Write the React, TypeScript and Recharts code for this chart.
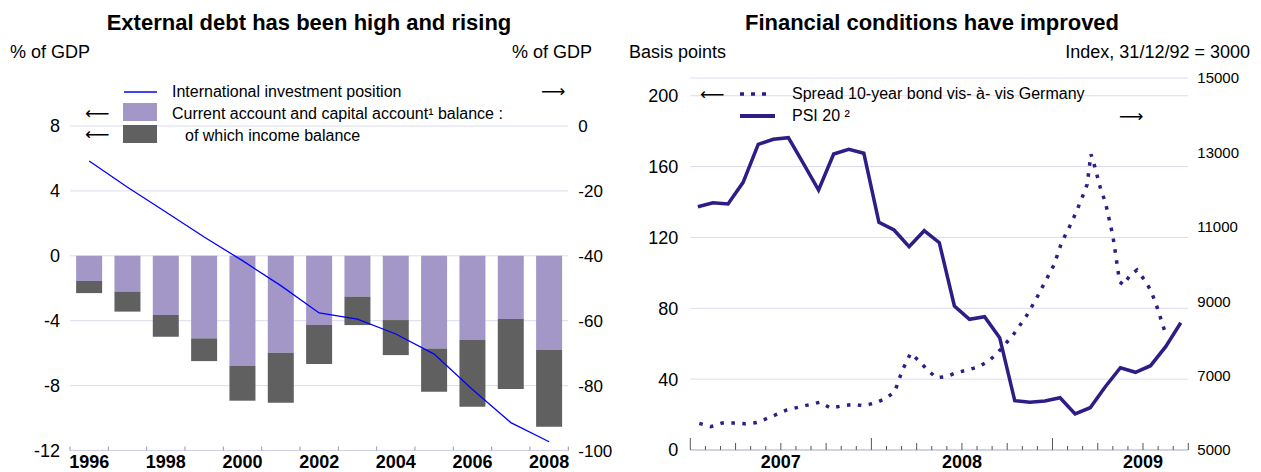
import React from "react"
import { ComposedChart, Bar, Line, XAxis, YAxis, CartesianGrid } from "recharts"

// ---- left panel: external position, % of GDP ----
const years = ["1996", "1997", "1998", "1999", "2000", "2001", "2002", "2003", "2004", "2005", "2006", "2007", "2008"]
const currentAccount = [-2.3, -3.44, -4.99, -6.49, -8.93, -9.06, -6.67, -4.27, -6.12, -8.38, -9.3, -8.21, -10.54]
const incomeBalance = [-0.75, -1.23, -1.34, -1.4, -2.14, -3.09, -2.4, -1.75, -2.16, -2.67, -4.11, -4.31, -4.73]
const investmentPosition = [-10.8, -18.9, -26.5, -34.2, -41.5, -49.2, -57.6, -59.5, -64.1, -70.3, -81.2, -91.4, -97.3]
const leftTicks = [-12, -8, -4, 0, 4, 8]
const rightTicks = [-100, -80, -60, -40, -20, 0]

// ---- right panel: monthly, Jan 2007 = month 0 ----
const psi20 = [
  11540, 11648, 11613, 12196, 13218, 13352, 13395, 12700, 11989, 12957, 13083, 12976,
  11121, 10914, 10465, 10895, 10573, 8871, 8513, 8583, 8019, 6325, 6282, 6317,
  6406, 5968, 6137, 6702, 7212, 7089, 7266, 7777, 8422,
]
const spreadMonths = [
  0.6, 1.35, 2.1, 3.0, 3.6, 4.4, 5.0, 6.4, 7.2, 8.6, 9.3, 10.0, 10.8, 11.5, 12.3, 13.0, 13.55, 14.05, 14.6,
  15.2, 15.7, 16.3, 17.0, 17.6, 18.4, 19.1, 19.8, 20.4, 21.4, 22.3, 23.0, 23.7, 24.1, 24.6, 25.3, 25.9,
  26.3, 26.55, 26.8, 27.2, 27.5, 28.0, 28.45, 28.7, 29.15, 29.6, 30.1, 30.5, 30.85, 31.5,
]
const spreadBp = [
  15, 13.2, 15.2, 15.3, 14.8, 15.5, 17.5, 22.6, 24.2, 27, 23.6, 24.8, 25.8, 25, 26.7, 29.3, 33, 45, 54.6,
  50, 45.3, 40.8, 41.5, 43.6, 45.2, 47, 50.4, 55.2, 65, 76, 86.6, 98, 104.5, 117, 129, 141,
  150, 167, 160, 147, 140, 121, 95, 93.2, 98.8, 101.6, 96, 90.3, 82.8, 65.5,
]
const yearLabels = ["2007", "2008", "2009"]
const bpTicks = [0, 40, 80, 120, 160, 200]
const indexTicks = [5000, 7000, 9000, 11000, 13000, 15000]

const leftData = years.map((year, i) => ({
  year,
  other: +(currentAccount[i] - incomeBalance[i]).toFixed(2),
  income: incomeBalance[i],
  iip: investmentPosition[i],
}))

const rightData = [
  ...psi20.map((v, i) => ({ m: i + 0.5, psi: v })),
  ...spreadMonths.map((m, i) => ({ m, spread: spreadBp[i] })),
].sort((a, b) => a.m - b.m)

const monthTicks = Array.from({ length: psi20.length + 1 }, (_, i) => i)

const FONT = '"Liberation Sans", Arial, Helvetica, sans-serif'
const PURPLE = "#a397c8"
const DARK = "#606060"
const INDIGO = "#2d1e87"
const GRID = "#dcdcf0"

const LEFT_BAND = 498.3 / years.length

function YearTick(props: any) {
  const { x, y, index } = props
  const axisY = y - 8
  const left = x - LEFT_BAND / 2
  return (
    <g>
      <line x1={left} x2={left} y1={axisY} y2={axisY - 4} stroke="#999" />
      {index === years.length - 1 && (
        <line x1={x + LEFT_BAND / 2} x2={x + LEFT_BAND / 2} y1={axisY} y2={axisY - 4} stroke="#999" />
      )}
      {index % 2 === 0 && (
        <text x={x} y={axisY + 17.5} textAnchor="middle" fontWeight="bold" fontSize={18} fill="#000">
          {years[index]}
        </text>
      )}
    </g>
  )
}

function MonthTick(props: any) {
  const { x, y, payload } = props
  const m = payload.value
  const len = m % 12 === 0 ? 12 : m % 3 === 0 ? 7 : 4
  const label = m % 12 === 6 ? yearLabels[Math.floor(m / 12)] : null
  return (
    <g>
      <line x1={x} x2={x} y1={y} y2={y - len} stroke="#555" />
      {label && (
        <text x={x} y={y + 18} textAnchor="middle" fontWeight="bold" fontSize={18} fill="#000">
          {label}
        </text>
      )}
    </g>
  )
}

function Txt({ x, y, size = 16, bold = false, anchor = "start", font, children }: any) {
  const tx = anchor === "middle" ? "translate(-50%, -50%)" : anchor === "end" ? "translate(-100%, -50%)" : "translate(0, -50%)"
  return (
    <div
      style={{
        position: "absolute",
        left: x,
        top: y,
        transform: tx,
        fontSize: size,
        fontWeight: bold ? "bold" : "normal",
        fontFamily: font,
        lineHeight: 1,
        whiteSpace: "nowrap",
      }}
    >
      {children}
    </div>
  )
}

function Arrow({ x, y, dir }: any) {
  return (
    <Txt x={x} y={y} size={17} font='"DejaVu Sans", sans-serif'>
      {dir === "left" ? "⟵" : "⟶"}
    </Txt>
  )
}

function Swatch({ x, y, w, h, color }: any) {
  return <div style={{ position: "absolute", left: x, top: y, width: w, height: h, background: color }} />
}

function LineSwatch({ x, y, w, width, color, dash }: any) {
  return (
    <svg style={{ position: "absolute", left: x, top: y - 5 }} width={w} height={10}>
      <line x1={0} x2={w} y1={5} y2={5} stroke={color} strokeWidth={width} strokeDasharray={dash} />
    </svg>
  )
}

export default function App() {
  return (
    <div
      style={{
        position: "absolute",
        left: 0,
        top: 0,
        width: 1261,
        height: 472,
        background: "#fff",
        fontFamily: FONT,
        color: "#000",
        overflow: "hidden",
      }}
    >
      <div style={{ position: "absolute", left: 0, top: 0 }}>
        <ComposedChart width={620} height={472} data={leftData} margin={{ top: 126, right: 0, bottom: 1.5, left: 0 }} barCategoryGap="16%">
          <CartesianGrid yAxisId="left" vertical={false} stroke={GRID} />
          <XAxis
            dataKey="year"
            interval={0}
            height={20}
            tickSize={0}
            tickMargin={8}
            tickLine={false}
            axisLine={{ stroke: "#d0d0e8" }}
            tick={<YearTick />}
          />
          <YAxis
            yAxisId="left"
            width={70}
            domain={[-12, 8]}
            ticks={leftTicks}
            axisLine={false}
            tickLine={false}
            tickSize={0}
            tickMargin={10}
            tick={{ fill: "#000", fontSize: 18 }}
          />
          <YAxis
            yAxisId="right"
            orientation="right"
            width={51.7}
            domain={[-100, 0]}
            ticks={rightTicks}
            axisLine={false}
            tickLine={false}
            tickSize={0}
            tickMargin={10}
            tick={{ fill: "#000", fontSize: 17 }}
          />
          <Bar yAxisId="left" dataKey="other" stackId="ca" fill={PURPLE} isAnimationActive={false} />
          <Bar yAxisId="left" dataKey="income" stackId="ca" fill={DARK} isAnimationActive={false} />
          <Line yAxisId="right" dataKey="iip" stroke="#0000ff" strokeWidth={1.3} dot={false} isAnimationActive={false} />
        </ComposedChart>
      </div>

      <div style={{ position: "absolute", left: 620, top: 0 }}>
        <ComposedChart width={641} height={472} data={rightData} margin={{ top: 78, right: 0, bottom: 2, left: 0 }}>
          <CartesianGrid yAxisId="bp" vertical={false} stroke={GRID} />
          <XAxis
            dataKey="m"
            type="number"
            domain={[0, 33]}
            ticks={monthTicks}
            interval={0}
            height={20}
            tickSize={0}
            tickMargin={0}
            tickLine={false}
            axisLine={{ stroke: "#b8b8cc" }}
            tick={<MonthTick />}
          />
          <YAxis
            yAxisId="bp"
            width={70.3}
            domain={[0, 210]}
            ticks={bpTicks}
            axisLine={false}
            tickLine={false}
            tickSize={0}
            tickMargin={12}
            tick={{ fill: "#000", fontSize: 18 }}
          />
          <YAxis
            yAxisId="psi"
            orientation="right"
            width={72.7}
            domain={[5000, 15000]}
            ticks={indexTicks}
            axisLine={false}
            tickLine={false}
            tickSize={0}
            tickMargin={9}
            tick={{ fill: "#000", fontSize: 15 }}
          />
          <Line
            yAxisId="bp"
            dataKey="spread"
            stroke={INDIGO}
            strokeWidth={3.5}
            strokeDasharray="3.5 7.5"
            dot={false}
            connectNulls
            isAnimationActive={false}
          />
          <Line
            yAxisId="psi"
            dataKey="psi"
            stroke={INDIGO}
            strokeWidth={3.5}
            dot={false}
            connectNulls
            isAnimationActive={false}
          />
        </ComposedChart>
      </div>

      {/* left panel texts */}
      <Txt x={309} y={23} size={22} bold anchor="middle">External debt has been high and rising</Txt>
      <Txt x={10} y={52} size={18}>% of GDP</Txt>
      <Txt x={592} y={52} size={18} anchor="end">% of GDP</Txt>
      <LineSwatch x={124} y={92} w={33} width={1.5} color="#0000ff" />
      <Txt x={172} y={92} size={16}>International investment position</Txt>
      <Arrow x={541} y={91} dir="right" />
      <Swatch x={123} y={103} w={34} h={18} color={PURPLE} />
      <Txt x={172} y={114} size={16}>Current account and capital account¹ balance :</Txt>
      <Arrow x={85} y={113} dir="left" />
      <Swatch x={123} y={125} w={34} h={18} color={DARK} />
      <Txt x={185} y={136} size={16}>of which income balance</Txt>
      <Arrow x={85} y={134} dir="left" />

      {/* right panel texts */}
      <Txt x={932} y={23} size={22} bold anchor="middle">Financial conditions have improved</Txt>
      <Txt x={629} y={52} size={18}>Basis points</Txt>
      <Txt x={1250} y={52} size={18} anchor="end">Index, 31/12/92 = 3000</Txt>
      <LineSwatch x={740} y={94.3} w={29} width={3.5} color={INDIGO} dash="4 7" />
      <Txt x={792} y={94.3} size={16}>Spread 10-year bond vis- à- vis Germany</Txt>
      <Arrow x={700} y={94} dir="left" />
      <LineSwatch x={740} y={115.7} w={35} width={4} color={INDIGO} />
      <Txt x={792} y={116} size={16}>PSI 20 ²</Txt>
      <Arrow x={1119} y={115.7} dir="right" />
    </div>
  )
}
